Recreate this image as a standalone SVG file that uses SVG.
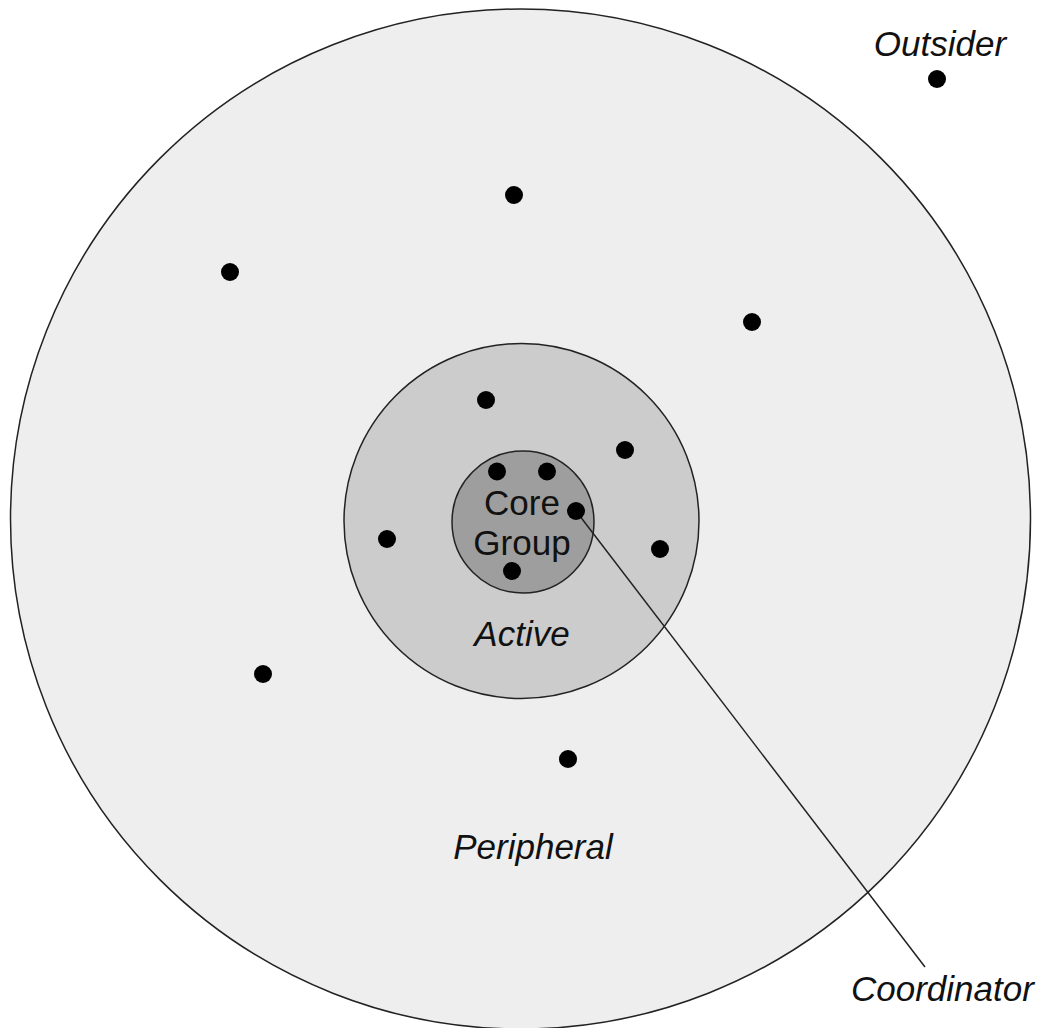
<svg xmlns="http://www.w3.org/2000/svg" width="1039" height="1028" viewBox="0 0 1039 1028">
<style>
.ring{stroke:#222;stroke-width:1.5}
.dot{fill:#000}
.lbl{font-family:"Liberation Sans",Arial,sans-serif;font-size:35px;fill:#111}
.it{font-style:italic}
</style>
<rect width="1039" height="1028" fill="#fff"/>
<g id="peripheral">
<circle class="ring" cx="520.5" cy="519" r="510" fill="#eeeeee"/>
<text class="lbl it" x="533" y="859" text-anchor="middle">Peripheral</text>
</g>
<g id="active">
<circle class="ring" cx="521.5" cy="521" r="177.5" fill="#cccccc"/>
<text class="lbl it" x="522" y="646" text-anchor="middle">Active</text>
</g>
<g id="core">
<circle class="ring" cx="523" cy="522" r="71" fill="#9e9e9e"/>
<text class="lbl" x="522" y="515" text-anchor="middle">Core</text>
<text class="lbl" x="522" y="555" text-anchor="middle">Group</text>
</g>
<g id="connectors">
<line x1="576" y1="511" x2="925" y2="967" stroke="#222" stroke-width="1.5"/>
</g>
<g id="members">
<circle class="dot" cx="514" cy="195" r="9"/>
<circle class="dot" cx="230" cy="272" r="9"/>
<circle class="dot" cx="752" cy="322" r="9"/>
<circle class="dot" cx="263" cy="674" r="9"/>
<circle class="dot" cx="568" cy="759" r="9"/>
<circle class="dot" cx="486" cy="400" r="9"/>
<circle class="dot" cx="625" cy="450" r="9"/>
<circle class="dot" cx="387" cy="539" r="9"/>
<circle class="dot" cx="660" cy="549" r="9"/>
<circle class="dot" cx="497" cy="471.5" r="9"/>
<circle class="dot" cx="547" cy="471.5" r="9"/>
<circle class="dot" cx="576" cy="511" r="9"/>
<circle class="dot" cx="512" cy="571" r="9"/>
</g>
<g id="outsider">
<circle class="dot" cx="937" cy="79" r="9"/>
<text class="lbl it" x="940" y="56" text-anchor="middle">Outsider</text>
</g>
<g id="coordinator">
<text class="lbl it" x="851" y="1001">Coordinator</text>
</g>
</svg>
